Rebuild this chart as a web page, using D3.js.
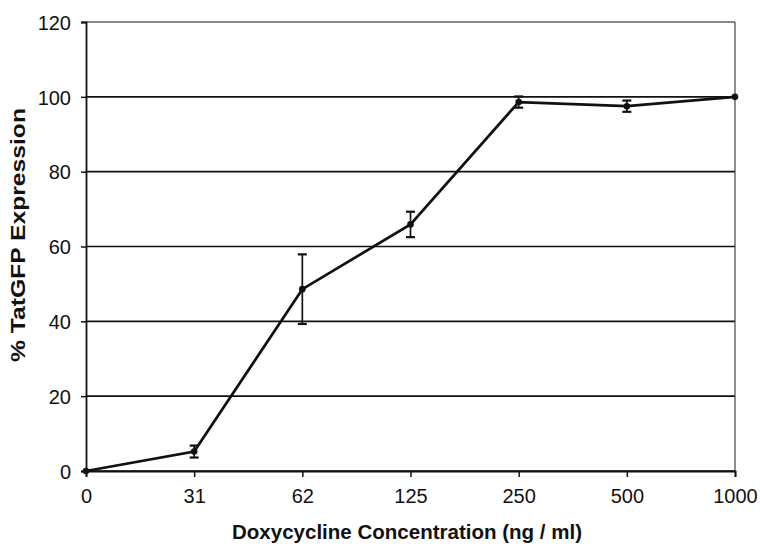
<!DOCTYPE html>
<html>
<head>
<meta charset="utf-8">
<script src="https://cdn.jsdelivr.net/npm/d3@7"></script>
<style>
  body { margin: 0; background: #fff; }
  svg text { font-family: "Liberation Sans", Arial, sans-serif; fill: #111; }
</style>
</head>
<body>
<svg id="chart" width="760" height="553"></svg>
<script>
// concentrations (categorical x axis) and measured expression
var doses = ["0", "31", "62", "125", "250", "500", "1000"];
var expression = [0, 5.2, 48.6, 65.9, 98.6, 97.5, 100];
var errors = [0, 1.6, 9.3, 3.4, 1.5, 1.5, 0];
var yTicks = [0, 20, 40, 60, 80, 100, 120];

var svg = d3.select("#chart");
var plotLeft = 86, plotRight = 735, plotTop = 22, plotBottom = 471;

var xScale = d3.scalePoint()
    .domain(doses)
    .range([plotLeft, plotRight])
    .padding(0);

var yScale = d3.scaleLinear()
    .domain([0, 120])
    .range([plotBottom, plotTop]);

// horizontal gridlines
svg.append("g")
    .selectAll("line")
    .data(yTicks)
    .enter()
    .append("line")
    .attr("x1", plotLeft)
    .attr("x2", plotRight)
    .attr("y1", function(d) { return yScale(d); })
    .attr("y2", function(d) { return yScale(d); })
    .attr("stroke", "#111")
    .attr("stroke-width", function(d) { return d == 120 ? 1.1 : 1.7; });

// right border
svg.append("line")
    .attr("x1", plotRight).attr("x2", plotRight)
    .attr("y1", plotTop).attr("y2", plotBottom)
    .attr("stroke", "#333").attr("stroke-width", 1.1);

// axes
var yAxis = d3.axisLeft(yScale).tickValues(yTicks).tickSize(5).tickPadding(10);
var yG = svg.append("g")
    .attr("transform", "translate(" + plotLeft + ",0)")
    .call(yAxis);

var xAxis = d3.axisBottom(xScale).tickSize(6).tickPadding(12);
var xG = svg.append("g")
    .attr("transform", "translate(0," + plotBottom + ")")
    .call(xAxis);

[yG, xG].forEach(function(g) {
    g.select(".domain").attr("stroke", "#111").attr("stroke-width", 1.8);
    g.selectAll(".tick line").attr("stroke", "#111").attr("stroke-width", 1.5);
    g.selectAll(".tick text")
        .style("font-family", "'Liberation Sans', Arial, sans-serif")
        .style("font-size", "20px")
        .attr("fill", "#111");
});
yG.selectAll(".tick text").attr("dy", "0.36em");

// error bars
var eb = svg.append("g")
    .selectAll("g")
    .data(doses.filter(function(d, i) { return errors[i] > 0; }))
    .enter()
    .append("g");

eb.append("line")
    .attr("x1", function(d) { return xScale(d); })
    .attr("x2", function(d) { return xScale(d); })
    .attr("y1", function(d) { var i = doses.indexOf(d); return yScale(expression[i] + errors[i]); })
    .attr("y2", function(d) { var i = doses.indexOf(d); return yScale(expression[i] - errors[i]); })
    .attr("stroke", "#111").attr("stroke-width", 1.7);

[1, -1].forEach(function(s) {
    eb.append("line")
        .attr("x1", function(d) { return xScale(d) - 4.5; })
        .attr("x2", function(d) { return xScale(d) + 4.5; })
        .attr("y1", function(d) { var i = doses.indexOf(d); return yScale(expression[i] + s * errors[i]); })
        .attr("y2", function(d) { var i = doses.indexOf(d); return yScale(expression[i] + s * errors[i]); })
        .attr("stroke", "#111").attr("stroke-width", 2.2);
});

// data line
var line = d3.line()
    .x(function(d, i) { return xScale(doses[i]); })
    .y(function(d) { return yScale(d); });

svg.append("path")
    .datum(expression)
    .attr("d", line)
    .attr("fill", "none")
    .attr("stroke", "#111")
    .attr("stroke-width", 2.7);

svg.append("g")
    .selectAll("circle")
    .data(expression)
    .enter()
    .append("circle")
    .attr("cx", function(d, i) { return xScale(doses[i]); })
    .attr("cy", function(d) { return yScale(d); })
    .attr("r", 3.3)
    .attr("fill", "#111");

// axis titles
svg.append("text")
    .attr("x", 407)
    .attr("y", 539)
    .attr("text-anchor", "middle")
    .attr("textLength", 350)
    .attr("lengthAdjust", "spacingAndGlyphs")
    .style("font-size", "20px")
    .style("font-weight", "bold")
    .text("Doxycycline Concentration (ng / ml)");

svg.append("text")
    .attr("transform", "translate(25,235) rotate(-90)")
    .attr("text-anchor", "middle")
    .attr("textLength", 254)
    .attr("lengthAdjust", "spacingAndGlyphs")
    .style("font-size", "20px")
    .style("font-weight", "bold")
    .text("% TatGFP Expression");
</script>
</body>
</html>
